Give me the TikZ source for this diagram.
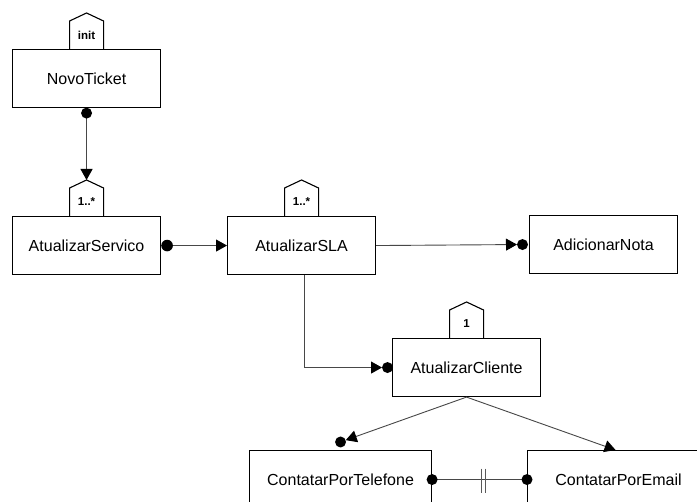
\documentclass[tikz,border=0pt]{standalone}
\usepackage{fontspec}
\setmainfont{Liberation Sans}
\usetikzlibrary{arrows.meta,calc}

\tikzset{
  box/.style={draw, line width=1.1pt, minimum width=148pt, minimum height=58pt,
    inner sep=0pt, anchor=north west, font=\fontsize{16}{19}\selectfont},
  widebox/.style={box, minimum width=182pt},
  conn/.style={line width=0.9pt, draw=black!72},
  arr/.style={conn, -{Triangle[length=11pt,width=12pt,fill=black,color=black]}},
  tagline/.style={line width=1.1pt, line join=miter},
  taglabel/.style={inner sep=0pt, font=\fontsize{11.5}{13}\selectfont\bfseries},
  tick/.style={line width=0.8pt, draw=black!65},
}

% multiplicity tag sitting on top of a box: #1 box, #2 tag name, #3 text
\newcommand\boxtag[3]{%
  \draw[tagline] ([xshift=-17pt]#1.north) -- ++(0pt,28pt) -- ++(17pt,8pt)
    -- ++(17pt,-8pt) -- ++(0pt,-28pt);
  \node[taglabel] (#2) at ([yshift=14pt]#1.north) {#3};
}

\begin{document}
\begin{tikzpicture}[x=1pt,y=-1pt]
\useasboundingbox (0,0) rectangle (697,502);
\clip (0,0) rectangle (697,502);
\fill[white] (0,0) rectangle (697,502);

% boxes
\node[box] (novo) at (12,49) {NovoTicket};
\node[box] (serv) at (12,216) {AtualizarServico};
\node[box] (sla) at (227,216) {AtualizarSLA};
\node[box] (nota) at (529,215) {AdicionarNota};
\node[box] (cli) at (392,338) {AtualizarCliente};
\node[widebox] (tel) at (249,450) {ContatarPorTelefone};
\node[widebox] (mail) at (527,450) {ContatarPorEmail};

% tags
\boxtag{novo}{novotag}{init}
\boxtag{serv}{servtag}{1..*}
\boxtag{sla}{slatag}{1..*}
\boxtag{cli}{clitag}{1}

% NovoTicket -> AtualizarServico
\coordinate (servpeak) at ([yshift=36pt]serv.north);
\draw[arr] (novo.south) -- (servpeak);
\fill ([yshift=-5pt]novo.south) circle (5.5pt);

% AtualizarServico -> AtualizarSLA
\draw[arr] (serv.east) -- (sla.west);
\fill ([xshift=6pt]serv.east) circle (5.8pt);

% AtualizarSLA -> AdicionarNota
\coordinate (notain) at ([xshift=-12pt]nota.west);
\draw[arr] (sla.east) -- (notain);
\fill ([xshift=-6.5pt]nota.west) circle (5.5pt);

% AtualizarSLA -> AtualizarCliente
\coordinate (cliin) at ([xshift=-10pt]cli.west);
\draw[arr] ([xshift=3pt]sla.south) |- (cliin);
\fill ([xshift=-4.5pt]cli.west) circle (5.5pt);

% AtualizarCliente -> ContatarPorTelefone / ContatarPorEmail
\coordinate (teldot) at ([yshift=8pt]tel.north);
\draw[arr, shorten >=5.5pt] (cli.south) -- (teldot);
\fill (teldot) circle (5.5pt);
\coordinate (mailin) at ([xshift=-3pt]mail.north);
\draw[arr] (cli.south) -- (mailin);

% ContatarPorTelefone -- ContatarPorEmail
\draw[conn] (tel.east) -- (mail.west);
\fill (tel.east) circle (5.5pt);
\fill (mail.west) circle (5.5pt);
\coordinate (mid) at ($(tel.east)!0.5!(mail.west)$);
\draw[tick] ([xshift=2pt,yshift=11pt]mid) -- ([xshift=2pt,yshift=-13pt]mid);
\draw[tick] ([xshift=6pt,yshift=11pt]mid) -- ([xshift=6pt,yshift=-13pt]mid);
\end{tikzpicture}
\end{document}
